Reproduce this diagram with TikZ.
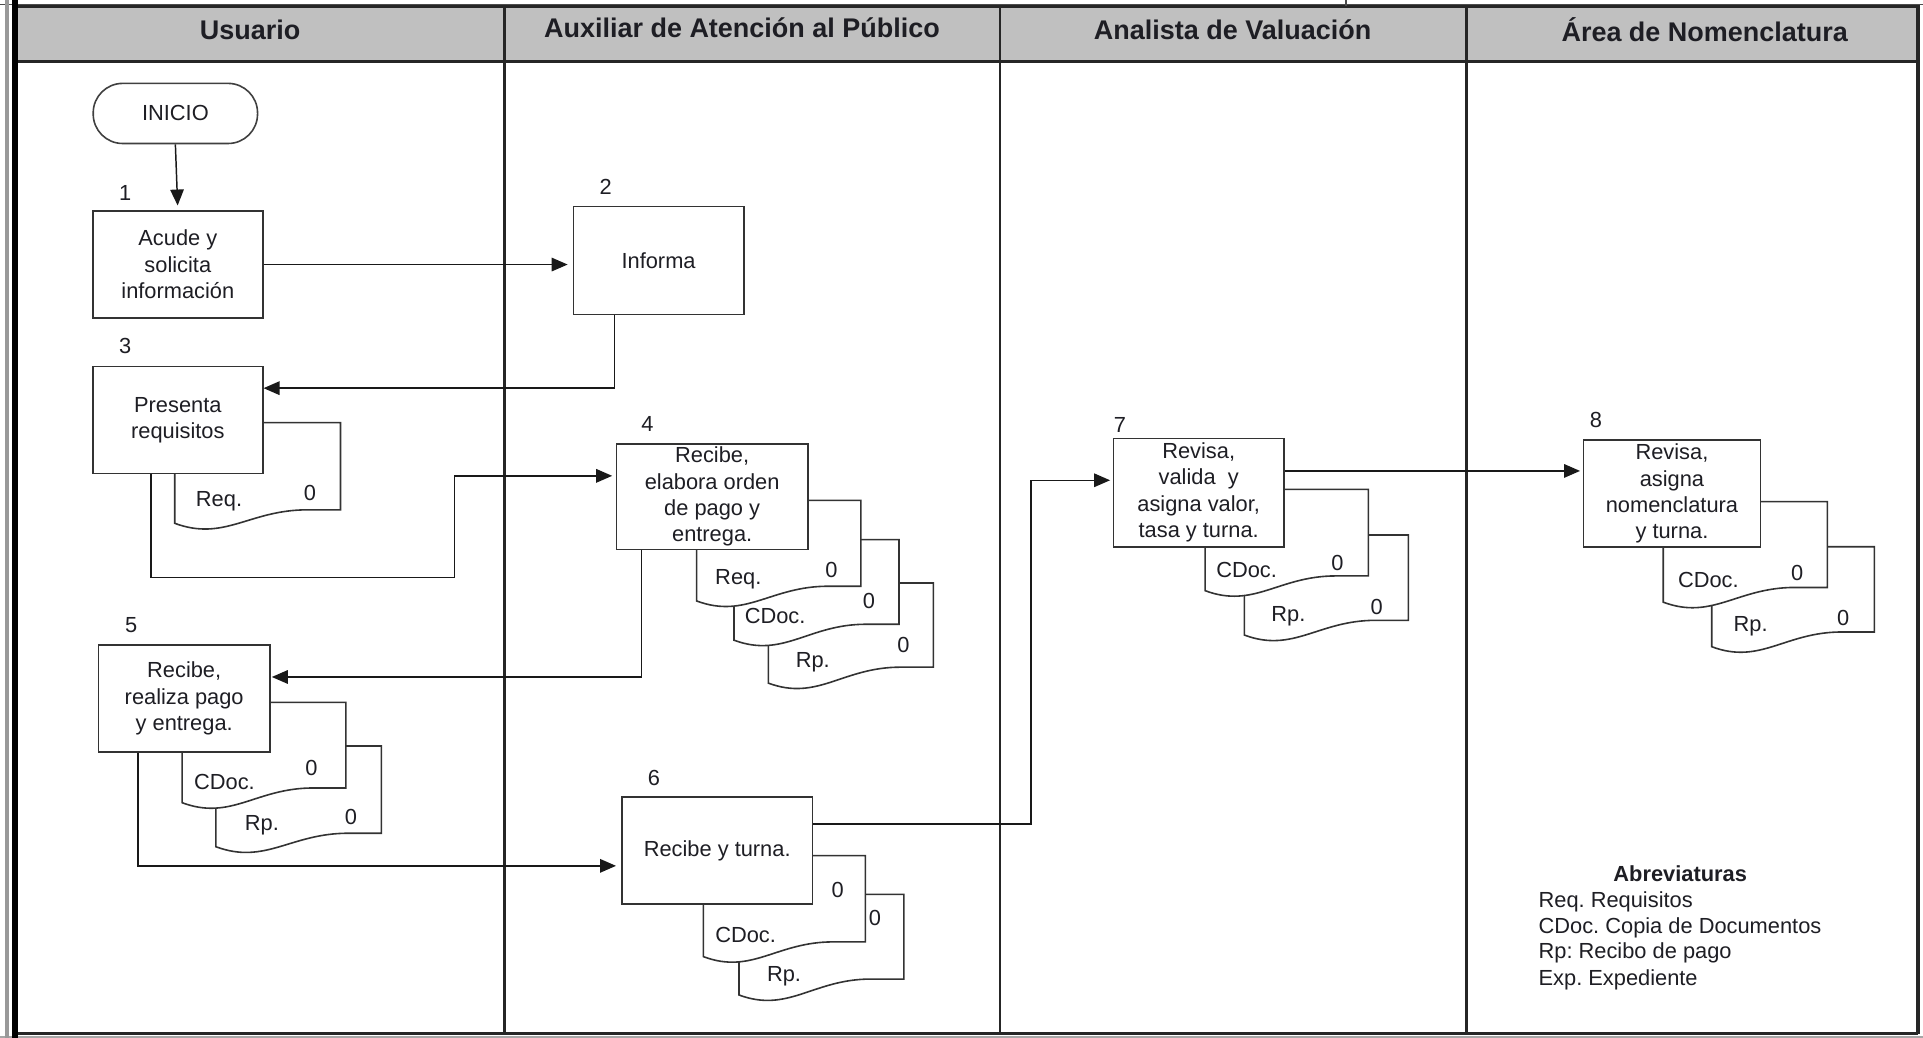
\documentclass[tikz,border=0pt]{standalone}
\usepackage{fontspec}
\setmainfont{Liberation Sans}
\usetikzlibrary{arrows.meta,calc}
\definecolor{headgray}{HTML}{C0C0C0}
\definecolor{inkc}{HTML}{1E1E24}
\newcommand\mydocshape[5]{%
  \filldraw[docline] (#1,#2) -- (#3,#2) -- (#3,{#4-#5}) -- ({#1+0.8*(#3-#1)},{#4-#5})
    .. controls ({#1+0.45*(#3-#1)},{#4-#5}) and ({#1+0.3*(#3-#1)},{#4+15}) .. (#1,#4) -- cycle;}
\frenchspacing
\begin{document}
\begin{tikzpicture}[x=1pt,y=-1pt,
  every node/.style={font=\fontsize{17.8}{21.5}\selectfont, text=inkc},
  proc/.style={draw=black!80, line width=1.3pt, fill=white, minimum height=87pt, inner sep=0pt, align=center},
  term/.style={draw=black!75, line width=1.3pt, fill=white, rounded corners=24pt, minimum width=134pt, minimum height=49pt, inner sep=0pt},
  docline/.style={draw=black!80, line width=1.3pt, fill=white},
  arr/.style={-{Triangle[length=13pt,width=11pt]}, line width=1.2pt, draw=black!90},
  head/.style={font=\bfseries\fontsize{22}{26}\selectfont, text=inkc},
  lane/.style={line width=2.3pt, draw=black!85},
  lbl/.style={inner sep=0pt}
]
\useasboundingbox (0,0) rectangle (1568,846);
\fill[white] (0,0) rectangle (1568,846);

% header band and frame
\filldraw[fill=headgray, draw=black!85, line width=2.4pt] (13,5.5) rectangle (1564,50);
\draw[black!70, line width=1.2pt] (0,3.5) -- (1568,3.5);
\draw[black!70, line width=1.4pt] (1097.5,0) -- (1097.5,5);
\draw[lane] (411.4,5.5) -- (411.4,843);
\draw[lane] (815.4,5.5) -- (815.4,843);
\draw[lane] (1195.6,5.5) -- (1195.6,843);
\draw[black!85, line width=2.4pt] (13,843) -- (1564,843);
\draw[black!35, line width=1.5pt] (0,845.5) -- (1568,845.5);
\draw[black!85, line width=3pt] (1564,5.5) -- (1564,843);
\draw[black!40, line width=3pt] (5.5,0) -- (5.5,846);
\draw[black, line width=4.5pt] (12.3,0) -- (12.3,846);

\node[head] (h1) at (204,24) {Usuario};
\node[head] (h2) at (605,23) {Auxiliar de Atención al Público};
\node[head] (h3) at (1005,24) {Analista de Valuación};
\node[head] (h4) at (1390,24) {Área de Nomenclatura};

% documents (back to front)
\mydocshape{142.5}{344.6}{277.6}{426.7}{11}
\node[lbl] (d3a) at (178.6,409) {Req.};
\node[lbl] (d3z) at (252.8,402.3) {0};

\mydocshape{626.5}{475.4}{761}{557}{13}
\mydocshape{598.5}{440}{733}{522}{13}
\mydocshape{568}{408}{702}{490}{12}
\node[lbl] (d4a) at (602,472.6) {Req.};
\node[lbl] (d4az) at (678,465) {0};
\node[lbl] (d4b) at (632,502.6) {CDoc.};
\node[lbl] (d4bz) at (708.6,490) {0};
\node[lbl] (d4c) at (662.7,539.6) {Rp.};
\node[lbl] (d4cz) at (736.6,526) {0};

\mydocshape{176}{608.3}{311}{690.4}{11}
\mydocshape{148.5}{572.7}{282}{654.5}{12}
\node[lbl] (d5a) at (183,637.4) {CDoc.};
\node[lbl] (d5az) at (254,626.5) {0};
\node[lbl] (d5b) at (213.5,673.2) {Rp.};
\node[lbl] (d5bz) at (286.2,666.4) {0};

\mydocshape{602.6}{729.2}{737}{811.3}{13}
\mydocshape{573.5}{697.7}{705.6}{780}{12}
\node[lbl] (d6a) at (608,762.4) {CDoc.};
\node[lbl] (d6az) at (683,725.7) {0};
\node[lbl] (d6b) at (639.3,795.8) {Rp.};
\node[lbl] (d6bz) at (713.5,748.8) {0};

\mydocshape{1014.6}{436.2}{1148.4}{517.8}{12}
\mydocshape{982.6}{399}{1115.7}{481.6}{12}
\node[lbl] (d7a) at (1016.5,464.8) {CDoc.};
\node[lbl] (d7az) at (1090.5,459.3) {0};
\node[lbl] (d7b) at (1050.5,502.8) {Rp.};
\node[lbl] (d7bz) at (1122.5,494.7) {0};

\mydocshape{1395.7}{445.8}{1528.3}{527.3}{12}
\mydocshape{1356.2}{409}{1490}{491}{12}
\node[lbl] (d8a) at (1393,473) {CDoc.};
\node[lbl] (d8az) at (1465.5,467.5) {0};
\node[lbl] (d8b) at (1427.5,511) {Rp.};
\node[lbl] (d8bz) at (1503,504.2) {0};

% process nodes
\node[term] (ini) at (143,92.5) {INICIO};
\node[proc, minimum width=138.5pt] (b1) at (145,215.7) {Acude y\\solicita\\información};
\node[proc, minimum width=139pt, minimum height=88pt] (b2) at (537,212.3) {Informa};
\node[proc, minimum width=138.5pt] (b3) at (145,342.5) {Presenta\\requisitos};
\node[proc, minimum width=155.8pt, minimum height=86pt] (b4) at (580.7,405) {Recibe,\\elabora orden\\de pago y\\entrega.};
\node[proc, minimum width=139.6pt] (b5) at (150.2,569.5) {Recibe,\\realiza pago\\y entrega.};
\node[proc, minimum width=155.7pt] (b6) at (584.8,693.5) {Recibe y turna.};
\node[proc, minimum width=139.2pt, minimum height=88.4pt] (b7) at (977.4,401.6) {Revisa,\\valida \ y\\asigna valor,\\tasa y turna.};
\node[proc, minimum width=144.6pt] (b8) at (1363.3,402.5) {Revisa,\\asigna\\nomenclatura\\y turna.};

% step numbers
\node[lbl] (s1) at (102,157) {1};
\node[lbl] (s2) at (493.8,152.3) {2};
\node[lbl] (s3) at (102,282) {3};
\node[lbl] (s4) at (528,345.4) {4};
\node[lbl] (s5) at (107,509.6) {5};
\node[lbl] (s6) at (533.3,634.6) {6};
\node[lbl] (s7) at (913.2,346.5) {7};
\node[lbl] (s8) at (1301.4,342.5) {8};

% connectors
\coordinate (c34) at (370.7,471);
\coordinate (c67) at (840.7,391.6);
\draw[arr, shorten >=4pt] (ini.south) -- (b1.north);
\draw[arr, shorten >=4pt] (b1.east) -- (b2.west |- b1.east);
\draw[arr] ([xshift=-36pt]b2.south) |- ([yshift=26pt]b3.east);
\draw[arr, shorten >=3pt] ([xshift=-22pt]b3.south) |- (c34) |- ([yshift=17pt]b4.west);
\draw[arr, shorten >=1pt] ([xshift=-57.7pt]b4.south) |- ([yshift=17.5pt]b5.east);
\draw[arr, shorten >=4pt] ([xshift=-37.8pt]b5.south) |- ([yshift=-12.5pt]b6.west);
\draw[arr, shorten >=2pt] ([yshift=21.5pt]b6.east) -| (c67) -- ([yshift=10pt]b7.west);
\draw[arr, shorten >=2pt] ([yshift=17.6pt]b7.east) -- ([yshift=17.6pt]b7.east -| b8.west);

% abbreviations
\node[lbl, font=\bfseries\fontsize{17.8}{21.5}\selectfont] (ab0) at (1370,712) {Abreviaturas};
\node[lbl, anchor=west] (ab1) at (1254.4,735.2) {Req. Requisitos};
\node[lbl, anchor=west] (ab2) at (1254.4,756.2) {CDoc. Copia de Documentos};
\node[lbl, anchor=west] (ab3) at (1254.4,777.3) {Rp: Recibo de pago};
\node[lbl, anchor=west] (ab4) at (1254.4,799.1) {Exp. Expediente};
\end{tikzpicture}
\end{document}
